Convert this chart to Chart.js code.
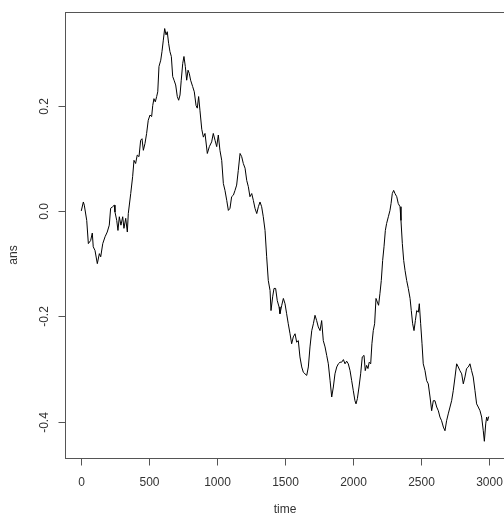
<!DOCTYPE html>
<html>
<head>
<meta charset="utf-8">
<script src="https://cdn.jsdelivr.net/npm/chart.js@4.4.0/dist/chart.umd.min.js"></script>
<style>
  html, body { margin: 0; padding: 0; background: #fff; overflow: hidden; }
  canvas { display: block; }
</style>
</head>
<body>
<canvas id="myChart" width="506" height="520"></canvas>
<script>
// values (series "ans" against "time")
var time = [0, 15, 22, 40, 52, 69, 81, 88, 101, 118, 133, 143, 158, 175, 191, 206, 216, 231, 243, 248,
  261, 270, 280, 292, 305, 314, 327, 339, 346, 364, 378, 388, 400, 412, 425, 437, 447, 457, 469, 481,
  493, 506, 518, 526, 535, 545, 555, 563, 572, 585, 594, 604, 614, 624, 633, 643, 653, 663, 673, 683,
  695, 707, 717, 727, 736, 747, 756, 766, 776, 786, 795, 805, 820, 832, 845, 854, 864, 874, 887, 899,
  911, 928, 943, 960, 972, 985, 997, 1009, 1021, 1034, 1046, 1058, 1071, 1083, 1095, 1107, 1120, 1132, 1144, 1156,
  1169, 1181, 1193, 1206, 1218, 1230, 1242, 1255, 1267, 1279, 1292, 1304, 1316, 1328, 1340, 1353, 1365, 1377, 1390, 1397,
  1409, 1419, 1431, 1443, 1456, 1463, 1476, 1488, 1500, 1512, 1524, 1537, 1549, 1561, 1574, 1586, 1598, 1610, 1623, 1635,
  1647, 1660, 1672, 1684, 1697, 1709, 1721, 1733, 1745, 1758, 1770, 1782, 1795, 1807, 1819, 1832, 1844, 1856, 1868, 1881,
  1893, 1905, 1917, 1930, 1942, 1954, 1966, 1979, 1991, 2003, 2015, 2023, 2033, 2045, 2057, 2069, 2082, 2091, 2101, 2111,
  2120, 2131, 2140, 2150, 2160, 2170, 2180, 2189, 2199, 2209, 2219, 2229, 2239, 2248, 2261, 2273, 2281, 2290, 2300, 2310,
  2323, 2334, 2347, 2354, 2364, 2374, 2384, 2396, 2408, 2421, 2430, 2440, 2450, 2460, 2470, 2482, 2489, 2499, 2509, 2518,
  2531, 2543, 2555, 2568, 2580, 2592, 2604, 2617, 2629, 2641, 2653, 2666, 2678, 2690, 2702, 2715, 2727, 2739, 2752, 2764,
  2776, 2788, 2801, 2813, 2825, 2837, 2850, 2862, 2874, 2886, 2899, 2911, 2923, 2936, 2948, 2960, 2968, 2978, 2985, 2992,
  3000];
var ans = [0.000, 0.017, 0.011, -0.018, -0.062, -0.056, -0.042, -0.068, -0.075, -0.100, -0.081, -0.087, -0.062, -0.049, -0.040, -0.027, 0.005, 0.008, 0.011, -0.002,
  -0.018, -0.037, -0.011, -0.027, -0.011, -0.033, -0.014, -0.040, -0.005, 0.033, 0.065, 0.096, 0.090, 0.106, 0.103, 0.134, 0.137, 0.115, 0.128, 0.147,
  0.172, 0.182, 0.179, 0.200, 0.213, 0.207, 0.217, 0.226, 0.274, 0.286, 0.302, 0.324, 0.346, 0.334, 0.340, 0.318, 0.302, 0.293, 0.255, 0.248,
  0.239, 0.217, 0.210, 0.220, 0.248, 0.280, 0.293, 0.274, 0.248, 0.267, 0.261, 0.248, 0.236, 0.226, 0.200, 0.195, 0.217, 0.190, 0.155, 0.140,
  0.147, 0.109, 0.122, 0.131, 0.147, 0.134, 0.122, 0.144, 0.115, 0.096, 0.052, 0.039, 0.020, 0.001, 0.005, 0.027, 0.030, 0.039, 0.049, 0.077,
  0.109, 0.103, 0.090, 0.081, 0.058, 0.046, 0.027, 0.033, 0.020, 0.005, -0.005, 0.008, 0.017, 0.008, -0.011, -0.037, -0.087, -0.132, -0.151, -0.189,
  -0.163, -0.147, -0.147, -0.170, -0.182, -0.195, -0.179, -0.166, -0.176, -0.195, -0.214, -0.233, -0.252, -0.239, -0.233, -0.249, -0.246, -0.277, -0.296, -0.306,
  -0.309, -0.312, -0.296, -0.258, -0.227, -0.214, -0.198, -0.208, -0.220, -0.227, -0.208, -0.246, -0.258, -0.274, -0.290, -0.322, -0.353, -0.334, -0.309, -0.296,
  -0.290, -0.287, -0.287, -0.282, -0.290, -0.285, -0.290, -0.303, -0.322, -0.341, -0.360, -0.366, -0.356, -0.334, -0.309, -0.277, -0.274, -0.303, -0.293, -0.299,
  -0.287, -0.290, -0.252, -0.227, -0.214, -0.166, -0.173, -0.179, -0.157, -0.132, -0.094, -0.068, -0.037, -0.024, -0.011, 0.001, 0.014, 0.033, 0.039, 0.033,
  0.027, 0.014, 0.008, -0.018, -0.062, -0.094, -0.113, -0.132, -0.147, -0.166, -0.189, -0.214, -0.227, -0.208, -0.189, -0.192, -0.176, -0.214, -0.252, -0.290,
  -0.303, -0.322, -0.328, -0.353, -0.379, -0.360, -0.360, -0.372, -0.379, -0.391, -0.398, -0.410, -0.417, -0.398, -0.385, -0.372, -0.360, -0.341, -0.315, -0.290,
  -0.296, -0.303, -0.309, -0.328, -0.315, -0.299, -0.296, -0.290, -0.303, -0.315, -0.341, -0.366, -0.372, -0.379, -0.391, -0.417, -0.437, -0.404, -0.391, -0.398,
  -0.390];

var xTicks = [0, 500, 1000, 1500, 2000, 2500, 3000];
var yTicks = [-0.4, -0.2, 0.0, 0.2];
var yTickLabels = ["-0.4", "-0.2", "0.0", "0.2"];

var points = time.map(function (t, i) {
  return { x: t, y: ans[i] };
});

// R style frame, ticks and labels, placed through the chart's scales
var rAxes = {
  id: "rAxes",
  afterDraw: function (chart) {
    var ctx = chart.ctx;
    var area = chart.chartArea;
    var xs = chart.scales.x;
    var ys = chart.scales.y;
    var left = Math.round(area.left) + 0.5;
    var top = Math.round(area.top) + 0.5;
    var right = Math.round(area.right) + 0.5;
    var bottom = Math.round(area.bottom) + 0.5;

    ctx.save();
    ctx.strokeStyle = "#555";
    ctx.lineWidth = 1;
    ctx.strokeRect(left, top, right - left, bottom - top);

    ctx.fillStyle = "#333";
    ctx.font = "12px 'Liberation Sans', Arial, sans-serif";

    // x axis
    ctx.textAlign = "center";
    ctx.textBaseline = "middle";
    xTicks.forEach(function (v) {
      var px = Math.round(xs.getPixelForValue(v)) + 0.5;
      ctx.beginPath();
      ctx.moveTo(px, bottom);
      ctx.lineTo(px, bottom + 7);
      ctx.stroke();
      ctx.fillText(String(v), px, bottom + 24);
    });

    // y axis, labels turned like R
    yTicks.forEach(function (v, i) {
      var py = Math.round(ys.getPixelForValue(v)) + 0.5;
      ctx.beginPath();
      ctx.moveTo(left, py);
      ctx.lineTo(left - 7, py);
      ctx.stroke();
      ctx.save();
      ctx.translate(left - 21, py);
      ctx.rotate(-Math.PI / 2);
      ctx.fillText(yTickLabels[i], 0, 0);
      ctx.restore();
    });

    ctx.fillText("time", (area.left + area.right) / 2, bottom + 51);
    ctx.save();
    ctx.translate(14, 255);
    ctx.rotate(-Math.PI / 2);
    ctx.fillText("ans", 0, 0);
    ctx.restore();
    ctx.restore();
  }
};

var ctx = document.getElementById("myChart");
var myChart = new Chart(ctx, {
  type: "line",
  data: {
    datasets: [
      {
        label: "ans",
        data: points,
        borderColor: "#000",
        borderWidth: 1,
        pointRadius: 0,
        tension: 0,
        fill: false
      }
    ]
  },
  options: {
    responsive: false,
    animation: false,
    devicePixelRatio: 1,
    layout: {
      padding: { left: 65, top: 12, right: 1, bottom: 62 }
    },
    plugins: {
      legend: { display: false },
      tooltip: { enabled: false }
    },
    scales: {
      x: { type: "linear", display: false, min: -120, max: 3120 },
      y: { type: "linear", display: false, min: -0.4687, max: 0.3774 }
    }
  },
  plugins: [rAxes]
});
</script>
</body>
</html>
